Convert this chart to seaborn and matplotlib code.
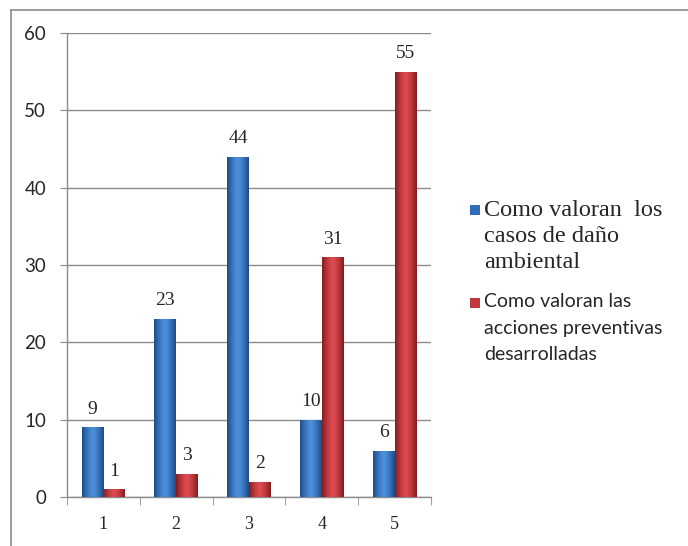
import numpy as np
import pandas as pd
import matplotlib.pyplot as plt
import matplotlib.font_manager as fm
from matplotlib.lines import Line2D
from matplotlib.patches import Rectangle
import seaborn as sns

# datos
categorias = ['1', '2', '3', '4', '5']
danio = [9, 23, 44, 10, 6]            # Como valoran los casos de daño ambiental
acciones = [1, 3, 2, 31, 55]           # Como valoran las acciones preventivas
serie1 = 'Como valoran  los\ncasos de daño\nambiental'
serie2 = 'Como valoran las\nacciones preventivas\ndesarrolladas'

df = pd.DataFrame({
    'cat': categorias * 2,
    'valor': danio + acciones,
    'serie': [serie1] * 5 + [serie2] * 5,
})

sns.set_style('white')
plt.rcParams['font.family'] = ['Liberation Serif', 'DejaVu Serif']

serif = fm.FontProperties(family='Liberation Serif', size=14)

fig = plt.figure(figsize=(6.88, 5.46), dpi=100)
ax = fig.add_axes([67 / 688, 1 - 497 / 546, 364 / 688, 464 / 546])

colores = {serie1: '#2f6db8', serie2: '#c0383b'}
sns.barplot(data=df, x='cat', y='valor', hue='serie', palette=colores,
            width=0.6, gap=0, ax=ax, legend=False, edgecolor='none', zorder=3)

# degradado tipo Excel en cada barra
grad = np.abs(np.linspace(-1, 1, 64)) ** 1.4
oscuro = {serie1: np.array([0.11, 0.29, 0.53]), serie2: np.array([0.52, 0.11, 0.12])}
claro = {serie1: np.array([0.30, 0.56, 0.86]), serie2: np.array([0.87, 0.29, 0.31])}
for i, p in enumerate(ax.patches[:10]):
    s = serie1 if i < 5 else serie2
    rgb = claro[s][None, :] * (1 - grad[:, None]) + oscuro[s][None, :] * grad[:, None]
    x0, y0 = p.get_x(), p.get_y()
    w, h = p.get_width(), p.get_height()
    im = ax.imshow(rgb[None, :, :], extent=[x0, x0 + w, y0, y0 + h],
                   aspect='auto', zorder=3.5)
    im.set_clip_path(p)

# etiquetas de datos
for i, v in enumerate(danio):
    ax.annotate(str(v), (i - 0.15, v), xytext=(0, 7), textcoords='offset points',
                ha='center', va='bottom', fontproperties=serif)
for i, v in enumerate(acciones):
    ax.annotate(str(v), (i + 0.15, v), xytext=(0, 7), textcoords='offset points',
                ha='center', va='bottom', fontproperties=serif)

ax.set_xlim(-0.5, 4.5)
ax.set_ylim(0, 60)
ax.set_yticks(range(0, 61, 10))
ax.yaxis.grid(True, color='#8c8c8c', linewidth=1)
ax.set_axisbelow(True)
ax.set_xlabel('')
ax.set_ylabel('')
for lado in ['top', 'right']:
    ax.spines[lado].set_visible(False)
for lado in ['left', 'bottom']:
    ax.spines[lado].set_color('#8c8c8c')
    ax.spines[lado].set_linewidth(1)

ax.tick_params(axis='y', length=5, color='#8c8c8c', pad=10, left=True)
for t in ax.get_yticklabels():
    t.set_fontproperties(fm.FontProperties(family='Lato', size=13.5))
ax.tick_params(axis='x', which='major', length=0, pad=14)
ax.set_xticks(np.arange(-0.5, 5, 1), minor=True)
ax.tick_params(axis='x', which='minor', length=6, color='#8c8c8c', bottom=True)
for t in ax.get_xticklabels():
    t.set_fontproperties(fm.FontProperties(family='Liberation Serif', size=13))

# leyenda a la derecha (marcador alineado con la primera línea)
entradas = [
    (serie1, 210, fm.FontProperties(family='Liberation Serif', size=17.5), 1.32),
    (serie2, 303, fm.FontProperties(family='Lato', size=14), 1.68),
]
for nombre, ypix, fp, ls in entradas:
    fig.add_artist(Rectangle((470 / 688, 1 - (ypix + 5) / 546), 10 / 688, 10 / 546,
                             transform=fig.transFigure, facecolor=colores[nombre],
                             edgecolor='none'))
    fig.text(484 / 688, 1 - (ypix - 10) / 546, nombre, fontproperties=fp,
             linespacing=ls, va='top', ha='left')

# marco del área del gráfico
fig.add_artist(Line2D([11 / 688, 11 / 688], [0, 1 - 10 / 546], color='#8c8c8c', lw=1.2))
fig.add_artist(Line2D([11 / 688, 1], [1 - 10 / 546, 1 - 10 / 546], color='#8c8c8c', lw=1.2))

plt.savefig('out.png', dpi=100)
